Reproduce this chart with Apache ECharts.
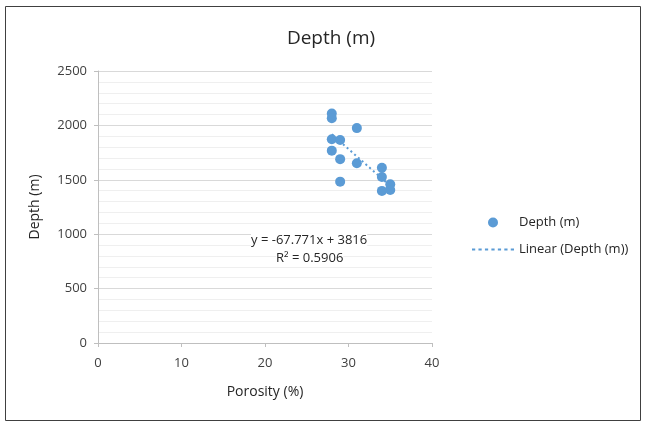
<!DOCTYPE html>
<html>
<head>
<meta charset="utf-8">
<script src="https://cdn.jsdelivr.net/npm/echarts@6/dist/echarts.min.js"></script>
<style>
  html, body { margin: 0; padding: 0; background: #fff; }
  #chart { width: 646px; height: 423px; }
</style>
</head>
<body>
<div id="chart"></div>
<script>
// porosity (%) vs depth (m)
const porosity = [28, 28, 28, 28, 29, 29, 29, 31, 31, 34, 34, 34, 35, 35];
const depth = [2110, 2065, 1872, 1768, 1865, 1690, 1483, 1975, 1652, 1610, 1526, 1398, 1458, 1407];

// trendline y = -67.771x + 3816, drawn from min x to max x
const trendX = [28, 35];
const trendY = [1918.4, 1444];

const xTicks = [0, 10, 20, 30, 40];
const yTicks = [0, 500, 1000, 1500, 2000, 2500];

const font = '"Open Sans", "Noto Sans", sans-serif';
const textColor = '#404040';

let chart = echarts.init(document.getElementById('chart'));

let option = {
    animation: false,
    title: {
        text: 'Depth (m)',
        left: 326,
        top: 24,
        textAlign: 'center',
        textStyle: { fontFamily: font, fontSize: 19, fontWeight: 'normal', color: '#262626' }
    },
    grid: { left: 98, right: 214, top: 71, bottom: 80 },
    legend: {
        orient: 'vertical',
        left: 467,
        top: 211,
        itemGap: 14,
        itemWidth: 42,
        itemHeight: 10,
        textStyle: { fontFamily: font, fontSize: 13, color: '#262626' },
        data: [
            { name: 'Depth (m)', icon: 'circle', itemStyle: { color: '#5B9BD5' } },
            { name: 'Linear (Depth (m))', icon: 'path://M0,4 L3,4 L3,6 L0,6 Z M6,4 L9,4 L9,6 L6,6 Z M12,4 L15,4 L15,6 L12,6 Z M18,4 L21,4 L21,6 L18,6 Z M24,4 L27,4 L27,6 L24,6 Z M30,4 L33,4 L33,6 L30,6 Z M36,4 L39,4 L39,6 L36,6 Z', itemStyle: { color: '#5B9BD5' } }
        ]
    },
    xAxis: {
        type: 'value',
        min: xTicks[0],
        max: xTicks[xTicks.length - 1],
        interval: 10,
        name: 'Porosity (%)',
        nameLocation: 'middle',
        nameGap: 42,
        nameTextStyle: { fontFamily: font, fontSize: 14, color: '#262626' },
        axisLine: { show: true, lineStyle: { color: '#bfbfbf', width: 1 } },
        axisTick: { show: true, length: 4, lineStyle: { color: '#bfbfbf' } },
        axisLabel: { fontFamily: font, fontSize: 13, color: textColor, margin: 14 },
        splitLine: { show: false }
    },
    yAxis: {
        type: 'value',
        min: yTicks[0],
        max: yTicks[yTicks.length - 1],
        interval: 500,
        name: 'Depth (m)',
        nameLocation: 'middle',
        nameGap: 56,
        nameTextStyle: { fontFamily: font, fontSize: 14, color: '#262626' },
        axisLine: { show: true, lineStyle: { color: '#bfbfbf', width: 1 } },
        axisTick: { show: true, length: 4, lineStyle: { color: '#bfbfbf' } },
        axisLabel: { fontFamily: font, fontSize: 13, color: textColor, margin: 11, formatter: v => String(v) },
        splitLine: { show: true, lineStyle: { color: '#d9d9d9', width: 1 } },
        minorTick: { show: false, splitNumber: 5 },
        minorSplitLine: { show: true, lineStyle: { color: '#efefef', width: 1 } }
    },
    series: [
        {
            name: 'Depth (m)',
            type: 'scatter',
            symbolSize: 10,
            itemStyle: { color: '#5B9BD5', opacity: 1 },
            data: porosity.map((p, i) => [p, depth[i]]),
            z: 3
        },
        {
            name: 'Linear (Depth (m))',
            type: 'line',
            showSymbol: false,
            symbol: 'none',
            lineStyle: { color: '#5B9BD5', width: 2, type: [2, 3] },
            data: trendX.map((x, i) => [x, trendY[i]]),
            z: 2
        }
    ],
    graphic: [
        {
            type: 'rect',
            shape: { x: 5.5, y: 6.5, width: 635, height: 414 },
            style: { fill: 'none', stroke: '#404040', lineWidth: 1 },
            silent: true
        },
        {
            type: 'text',
            left: 251,
            top: 234,
            z: 10,
            style: { text: 'y = -67.771x + 3816', fontFamily: font, fontSize: 13, fill: '#262626', backgroundColor: '#fff' }
        },
        {
            type: 'text',
            left: 276,
            top: 252,
            z: 10,
            style: { text: 'R² = 0.5906', fontFamily: font, fontSize: 13, fill: '#262626', backgroundColor: '#fff' }
        }
    ]
};

chart.setOption(option);
</script>
</body>
</html>
